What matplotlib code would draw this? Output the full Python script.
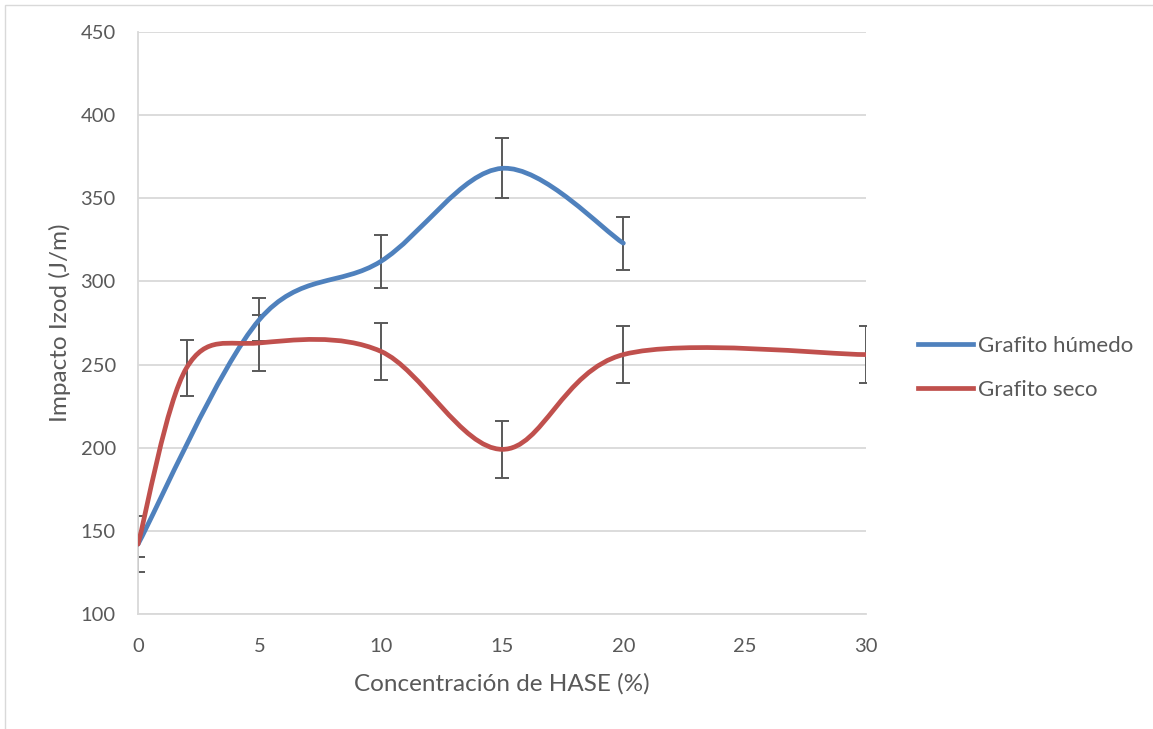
import matplotlib.pyplot as plt
import numpy as np
from matplotlib.path import Path
from matplotlib.patches import PathPatch, Rectangle

plt.rcParams["font.family"] = ["Lato", "DejaVu Sans"]

# Impacto Izod vs. concentracion de HASE
x_humedo = [0, 5, 10, 15, 20]
y_humedo = [142, 277, 312, 368, 323]
err_humedo = [17, 13, 16, 18, 16]

x_seco = [0, 2, 5, 10, 15, 20, 30]
y_seco = [142, 248, 263, 258, 199, 256, 256]
err_seco = [8, 17, 17, 17, 17, 17, 17]

xticks = [0, 5, 10, 15, 20, 25, 30]
yticks = [100, 150, 200, 250, 300, 350, 400, 450]

text_color = "#595959"
grid_color = "#D9D9D9"


def smooth_path(xs, ys):
    """Bezier path through the points, spreadsheet-style smoothing."""
    pts = np.column_stack([xs, ys]).astype(float)
    n = len(pts)
    verts = [pts[0]]
    codes = [Path.MOVETO]
    for i in range(n - 1):
        p0 = pts[i - 1] if i > 0 else pts[i]
        p1 = pts[i]
        p2 = pts[i + 1]
        p3 = pts[i + 2] if i + 2 < n else pts[i + 1]
        c1 = p1 + (p2 - p0) / 6
        c2 = p2 - (p3 - p1) / 6
        verts += [c1, c2, p2]
        codes += [Path.CURVE4] * 3
    return Path(verts, codes)


fig = plt.figure(figsize=(11.53, 7.29), dpi=100)
ax = fig.add_axes([0.1197, 0.1578, 0.7511 - 0.1197, 0.9561 - 0.1578])

ax.errorbar(x_humedo, y_humedo, yerr=err_humedo, fmt="none", ecolor="#595959",
            elinewidth=1.4, capsize=5, capthick=1.4, zorder=2)
ax.errorbar(x_seco, y_seco, yerr=err_seco, fmt="none", ecolor="#595959",
            elinewidth=1.4, capsize=5, capthick=1.4, zorder=2)

for xs, ys, color, label in [(x_humedo, y_humedo, "#4F81BD", "Grafito húmedo"),
                              (x_seco, y_seco, "#C0504D", "Grafito seco")]:
    patch = PathPatch(smooth_path(xs, ys), fill=False, edgecolor=color,
                      linewidth=3.4, capstyle="round", zorder=3)
    ax.add_patch(patch)
    ax.plot([], [], color=color, linewidth=3.4, label=label)

ax.set_xlim(0, 30)
ax.set_ylim(100, 450)
ax.set_xticks(xticks)
ax.set_yticks(yticks)
ax.tick_params(length=0, labelsize=14.5, colors=text_color)
ax.tick_params(axis="x", pad=17)
ax.tick_params(axis="y", pad=16)
ax.grid(axis="y", color=grid_color, linewidth=1.3)
ax.set_axisbelow(True)
for side in ["top", "right"]:
    ax.spines[side].set_visible(False)
for side in ["left", "bottom"]:
    ax.spines[side].set_color(grid_color)
    ax.spines[side].set_linewidth(1.3)

ax.set_xlabel("Concentración de HASE (%)", fontsize=17.5, color=text_color, labelpad=13)
ax.set_ylabel("Impacto Izod (J/m)", fontsize=17.5, color=text_color, labelpad=7)

ax.legend(loc="center left", bbox_to_anchor=(1.071, 0.423), frameon=False,
          fontsize=16, labelcolor=text_color, handlelength=2.48,
          handletextpad=0.22, labelspacing=1.07, borderpad=0, borderaxespad=0)

fig.patches.append(Rectangle((0.004, -0.01), 1.1, 1.003, transform=fig.transFigure,
                             fill=False, edgecolor="#D9D9D9", linewidth=1))

fig.savefig("out.png", dpi=100)
